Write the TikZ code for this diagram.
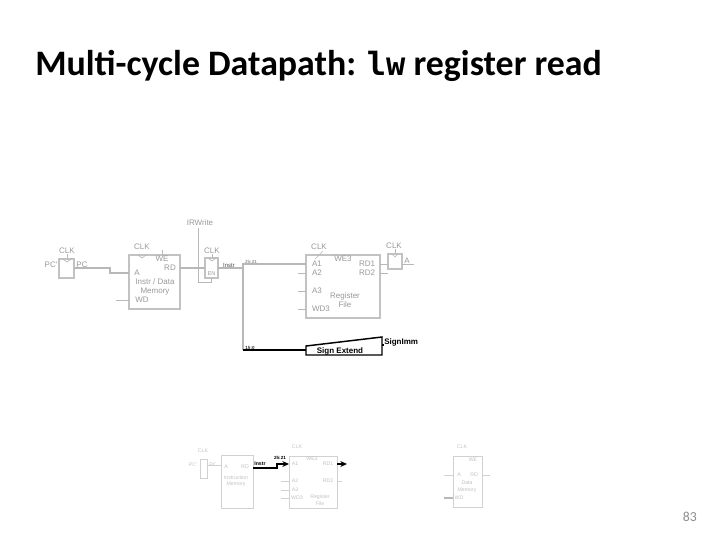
\documentclass[tikz,border=0pt]{standalone}
\usepackage{fontspec}
\setmainfont{Carlito}
\newfontfamily\diagfont{Liberation Sans}
\newfontfamily\codefont{DejaVu Sans Mono}
\usetikzlibrary{arrows.meta}
\definecolor{wiregray}{gray}{0.72}
\definecolor{boxgray}{gray}{0.76}
\definecolor{labgray}{gray}{0.6}
\definecolor{botgray}{gray}{0.82}
\tikzset{
 x=0.75pt,y=-0.75pt,
 sz/.style n args={2}{minimum width=#1*0.75pt,minimum height=#2*0.75pt,inner sep=0pt,outer sep=0pt},
 blk/.style={draw=boxgray,line width=1pt,fill=white},
 blkb/.style={draw=botgray,line width=0.7pt,fill=white},
 wire/.style={draw=wiregray,line width=0.9pt},
 wireb/.style={draw=botgray,line width=0.7pt},
 blackw/.style={draw=black,line width=1pt},
 lab/.style={font=\diagfont\fontsize{6}{6}\selectfont,text=labgray,inner sep=0pt,align=center},
 labb/.style={font=\diagfont\fontsize{3.9}{4.4}\selectfont,text=labgray!60,inner sep=0pt,align=center},
 tiny/.style={font=\diagfont\fontsize{3.4}{4}\bfseries\selectfont,text=black,inner sep=0pt},
}
\begin{document}
\begin{tikzpicture}
\useasboundingbox (0,0) rectangle (720,540);
\node[anchor=base west,inner sep=0pt,font=\fontsize{26.9}{30}\bfseries\selectfont] (title) at (35,75.5) {Multi-cycle Datapath: {\codefont\fontsize{24}{30}\selectfont lw} register read};
\node[anchor=base east,inner sep=0pt,font=\fontsize{10.3}{12}\selectfont,text=black!45] (page) at (697,521) {83};

% Upper datapath: blocks
\node[blk,sz={15}{19}] (pcreg) at (66.5,268.5) {};
\node[blk,sz={51}{54}] (mem) at (154.5,282) {};
\node[blk,sz={13}{20}] (ir) at (211.5,268) {};
\node[blk,sz={74}{63}] (rf) at (343,286.5) {};
\node[blk,sz={14}{15}] (areg) at (395,261.5) {};

% Upper datapath: labels
\node[lab] (l1) at (67,251) {CLK};
\node[lab] (l2) at (51,265) {PC'};
\node[lab] (l3) at (82,265) {PC};
\node[lab] (l4) at (142,247) {CLK};
\node[lab] (l5) at (162,259) {WE};
\node[lab] (l6) at (170,268) {RD};
\node[lab] (l7) at (137,273) {A};
\node[lab] (l8) at (155,287) {Instr / Data\\[0.5pt]Memory};
\node[lab] (l9) at (142,300) {WD};
\node[lab] (l10) at (200,223) {IRWrite};
\node[lab] (l11) at (212,251) {CLK};
\node[lab,font=\diagfont\fontsize{4.2}{5}\selectfont] (l12) at (211.5,274) {EN};
\node[lab,font=\diagfont\fontsize{4.5}{5}\selectfont,text=black!70] (l13) at (229,265) {Instr};
\node[tiny,text=labgray] (l14) at (251,261.5) {25:21};
\node[tiny,text=black!80] (l15) at (250,347.5) {15:0};
\node[lab] (l16) at (319,247) {CLK};
\node[lab] (l17) at (343,259) {WE3};
\node[lab] (l18) at (317,264) {A1};
\node[lab] (l19) at (317,273) {A2};
\node[lab] (l20) at (317,291) {A3};
\node[lab] (l21) at (321,309) {WD3};
\node[lab] (l22) at (367,264) {RD1};
\node[lab] (l23) at (367,273) {RD2};
\node[lab] (l24) at (345,300) {Register\\[0.5pt]File};
\node[lab] (l25) at (394,246) {CLK};
\node[lab] (l26) at (407,261) {A};

% Upper datapath: wires
\coordinate (pcbend) at (110,268);
\coordinate (memA) at (129,273);
\draw[wire] (pcreg.east |- pcbend) -- (pcbend) -- (pcbend |- memA) -- (memA);
\coordinate (wdfree) at (116,300);
\draw[wire,line width=0.6pt] (wdfree) -- (mem.west |- wdfree);
\draw[wire,line width=0.6pt] (162,250) -- (162,255);
\draw[wire] (mem.east |- pcbend) -- (ir.west |- pcbend);
\coordinate (en1) at (198,282);
\draw[wire,line width=0.6pt] (198,228) -- (en1) -- (ir.south |- en1) -- (ir.south);
\coordinate (split) at (243,268);
\coordinate (splittop) at (243,264);
\coordinate (splitbot) at (243,350);
\draw[wire] (ir.east |- split) -- (split);
\draw[wire] (splitbot) -- (splittop) -- (rf.west |- splittop);
\draw[wire,line width=0.6pt] (298,273) -- (rf.west |- 0,273);
\draw[wire,line width=0.6pt] (298,291) -- (rf.west |- 0,291);
\draw[wire,line width=0.6pt] (298,309) -- (rf.west |- 0,309);
\draw[wire,line width=0.6pt] (rf.east |- 0,264) -- (areg.west |- 0,264);
\draw[wire,line width=0.6pt] (rf.east |- 0,273) -- (388,273);
\draw[wire,line width=0.6pt] (areg.east |- 0,264) -- (414,264);
\draw[wire,line width=0.5pt] (67,254) -- (67,259);
\draw[wire,line width=0.5pt] (212,254) -- (212,258);
\draw[wire,line width=0.5pt] (395,249) -- (395,254);
\draw[wire,line width=0.5pt] (323,251) -- (315,259);
% clock wedges
\draw[wire,line width=0.5pt] (138,255) -- (142,258) -- (146,255);
\draw[wire,line width=0.5pt] (63,259) -- (67,262) -- (71,259);
\draw[wire,line width=0.5pt] (208,258) -- (212,261) -- (216,258);
\draw[wire,line width=0.5pt] (392,254) -- (395,257) -- (398,254);

% Sign extend
\coordinate (seA) at (306,346);
\coordinate (seB) at (382,337);
\coordinate (seC) at (382,355);
\coordinate (seD) at (306,355);
\draw[black,line width=1.1pt,fill=white] (seA) -- (seB) -- (seC) -- (seD) -- cycle;
\node[font=\diagfont\fontsize{6}{6}\bfseries\selectfont,inner sep=0pt] (se) at (340,351) {Sign Extend};
\node[font=\diagfont\fontsize{6}{6}\bfseries\selectfont,inner sep=0pt,anchor=west] (simm) at (384,342) {SignImm};
\draw[blackw] (splitbot) -- (seA |- splitbot);
\draw[blackw] (seB |- 0,345) -- (384,345);

% Lower datapath: blocks
\node[blkb,sz={7}{19}] (pc2) at (203.5,468.5) {};
\node[blkb,sz={32}{53}] (im) at (237,481.5) {};
\node[blkb,sz={48}{52}] (rf2) at (313,482) {};
\node[blkb,sz={29}{51}] (dm) at (467.5,481.5) {};

% Lower datapath: labels
\node[labb] (b1) at (203,451) {CLK};
\node[labb] (b2) at (193,465) {PC'};
\node[labb] (b3) at (213,465) {PC};
\node[labb] (b4) at (226,467) {A};
\node[labb] (b5) at (245,467) {RD};
\node[labb] (b6) at (236,481) {Instruction\\[0.5pt]Memory};
\node[labb] (b7) at (297,447) {CLK};
\node[labb] (b8) at (312,459) {WE3};
\node[labb] (b9) at (295,464) {A1};
\node[labb] (b10) at (295,481) {A2};
\node[labb] (b11) at (295,490) {A3};
\node[labb] (b12) at (297,498) {WD3};
\node[labb] (b13) at (328,464) {RD1};
\node[labb] (b14) at (328,481) {RD2};
\node[labb] (b15) at (320,500) {Register\\[0.5pt]File};
\node[labb] (b16) at (462,447) {CLK};
\node[labb] (b17) at (473,460) {WE};
\node[labb] (b18) at (459,475) {A};
\node[labb] (b19) at (474,475) {RD};
\node[labb] (b20) at (467,487) {Data\\[0.5pt]Memory};
\node[labb] (b21) at (459,498) {WD};
\node[font=\diagfont\fontsize{3.9}{4}\bfseries\selectfont,inner sep=0pt] (b22) at (260,464) {Instr};
\node[tiny] (b23) at (280,458) {25:21};

% Lower datapath: wires
\coordinate (iw1) at (277,468);
\coordinate (iw2) at (277,464);
\draw[blackw,-{Stealth[length=5pt,width=4.5pt]}] (im.east |- iw1) -- (iw1) -- (iw2) -- (289,464);
\draw[blackw,-{Stealth[length=5pt,width=4.5pt]}] (rf2.east |- 0,464) -- (347,464);
\draw[wireb] (pc2.east |- 0,465) -- (im.west |- 0,465);
\draw[wireb] (281,481) -- (rf2.west |- 0,481);
\draw[wireb] (281,490) -- (rf2.west |- 0,490);
\draw[wireb] (281,498) -- (rf2.west |- 0,498);
\draw[wireb] (rf2.east |- 0,481) -- (342,481);
\draw[wireb] (444,475) -- (dm.west |- 0,475);
\draw[wireb] (dm.east |- 0,475) -- (490,475);
\draw[wire] (444,498) -- (dm.west |- 0,498);
\end{tikzpicture}
\end{document}
